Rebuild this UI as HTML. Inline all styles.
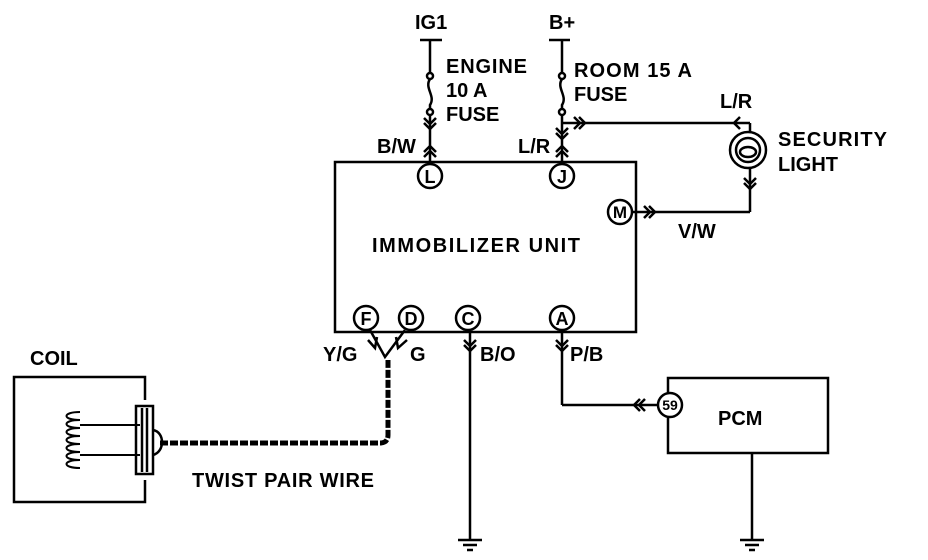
<!DOCTYPE html>
<html><head><style>body{margin:0;background:#fff}svg{display:block}text{font-family:"Liberation Sans",sans-serif;font-weight:bold;fill:#000;font-size:20px}</style></head><body>
<svg width="928" height="560" viewBox="0 0 928 560" xmlns="http://www.w3.org/2000/svg">
<g stroke="#000" stroke-width="2.5" fill="none">
<rect x="335" y="162" width="301" height="170"/>
<line x1="420" y1="40" x2="442" y2="40"/>
<line x1="430" y1="40" x2="430" y2="72"/>
<circle cx="430" cy="76" r="3"/>
<path d="M430 79 C424 88,436 96,430 105 L430 109"/>
<circle cx="430" cy="112" r="3"/>
<line x1="430" y1="115" x2="430" y2="164"/>
<path d="M424 118 L430 124 L436 118 M424 123 L430 129 L436 123"/>
<path d="M424 152 L430 146 L436 152 M424 157 L430 151 L436 157"/>
<line x1="549" y1="40" x2="570" y2="40"/>
<line x1="562" y1="40" x2="562" y2="72"/>
<circle cx="562" cy="76" r="3"/>
<path d="M562 79 C556 88,568 96,562 105 L562 109"/>
<circle cx="562" cy="112" r="3"/>
<line x1="562" y1="115" x2="562" y2="164"/>
<path d="M556 128 L562 134 L568 128 M556 133 L562 139 L568 133"/>
<path d="M556 152 L562 146 L568 152 M556 157 L562 151 L568 157"/>
<line x1="562" y1="123" x2="750" y2="123"/>
<path d="M574 117 L580 123 L574 129 M579 117 L585 123 L579 129"/>
<path d="M740 117 L734 123 L740 129"/>
<line x1="750" y1="123" x2="750" y2="132"/>
<circle cx="748" cy="150" r="18"/>
<circle cx="748" cy="150" r="12"/>
<ellipse cx="748" cy="152" rx="8" ry="5"/>
<line x1="750" y1="168" x2="750" y2="212"/>
<path d="M744 178 L750 184 L756 178 M744 183 L750 189 L756 183"/>
<line x1="632" y1="212" x2="750" y2="212"/>
<path d="M644 206 L650 212 L644 218 M649 206 L655 212 L649 218"/>
<line x1="562" y1="330" x2="562" y2="405"/>
<path d="M556 340 L562 346 L568 340 M556 345 L562 351 L568 345"/>
<line x1="562" y1="405" x2="658" y2="405"/>
<path d="M645 399 L639 405 L645 411 M640 399 L634 405 L640 411"/>
<path d="M668 393 L668 378 L828 378 L828 453 L668 453 L668 417"/>
<line x1="752" y1="453" x2="752" y2="540"/>
<line x1="740" y1="540" x2="764" y2="540"/>
<line x1="745" y1="545" x2="759" y2="545"/>
<line x1="749" y1="550" x2="755" y2="550"/>
<line x1="470" y1="330" x2="470" y2="540"/>
<path d="M464 340 L470 346 L476 340 M464 345 L470 351 L476 345"/>
<line x1="458" y1="540" x2="482" y2="540"/>
<line x1="463" y1="545" x2="477" y2="545"/>
<line x1="467" y1="550" x2="473" y2="550"/>
<path d="M370 330 L385 357 L405 330"/>
<path d="M368 340 L375 348 L377 337"/>
<path d="M407 340 L398 348 L396 337"/>
<path d="M145 400 L145 377 L14 377 L14 502 L145 502 L145 480"/>
<rect x="136" y="406" width="17" height="68"/>
<line x1="142" y1="408" x2="142" y2="472"/>
<line x1="147" y1="408" x2="147" y2="472"/>
<path stroke-width="2" d="M80 412 C62 412,62 420,80 420 C62 420,62 428,80 428 C62 428,62 436,80 436 C62 436,62 444,80 444 C62 444,62 452,80 452 C62 452,62 460,80 460 C62 460,62 468,80 468"/>
<line stroke-width="2" x1="80" y1="425" x2="140" y2="425"/>
<line stroke-width="2" x1="80" y1="455" x2="140" y2="455"/>
<path d="M153 430 C165 432,165 452,153 455"/>
</g>
<g stroke="#000" fill="none">
<path d="M160 443 L380 443 Q388 443 388 435 L388 360" stroke-width="5" stroke-dasharray="8 2"/>
</g>
<g stroke="#000" stroke-width="2.5" fill="#fff">
<circle cx="430" cy="176" r="12"/><circle cx="562" cy="176" r="12"/>
<circle cx="620" cy="212" r="12"/>
<circle cx="366" cy="318" r="12"/><circle cx="411" cy="318" r="12"/>
<circle cx="468" cy="318" r="12"/><circle cx="562" cy="318" r="12"/>
<circle cx="670" cy="405" r="12"/>
</g>
<g text-anchor="middle">
<text x="430" y="183" style="font-size:18px">L</text><text x="562" y="183" style="font-size:18px">J</text>
<text x="620" y="218" style="font-size:17px">M</text>
<text x="366" y="325" style="font-size:18px">F</text><text x="411" y="325" style="font-size:18px">D</text>
<text x="468" y="325" style="font-size:18px">C</text><text x="562" y="325" style="font-size:18px">A</text>
<text x="670" y="410" style="font-size:14px">59</text>
</g>
<text x="415" y="29">IG1</text>
<text x="549" y="29">B+</text>
<text x="446" y="73" textLength="81">ENGINE</text>
<text x="446" y="97">10 A</text>
<text x="446" y="121">FUSE</text>
<text x="574" y="77" textLength="118">ROOM 15 A</text>
<text x="574" y="101">FUSE</text>
<text x="720" y="108">L/R</text>
<text x="778" y="146" textLength="109">SECURITY</text>
<text x="778" y="171">LIGHT</text>
<text x="678" y="238">V/W</text>
<text x="377" y="153">B/W</text>
<text x="518" y="153">L/R</text>
<text x="372" y="252" textLength="208">IMMOBILIZER UNIT</text>
<text x="323" y="361">Y/G</text>
<text x="410" y="361">G</text>
<text x="480" y="361">B/O</text>
<text x="570" y="361">P/B</text>
<text x="718" y="425">PCM</text>
<text x="30" y="365">COIL</text>
<text x="192" y="487" textLength="182">TWIST PAIR WIRE</text>
</svg>
</body></html>
